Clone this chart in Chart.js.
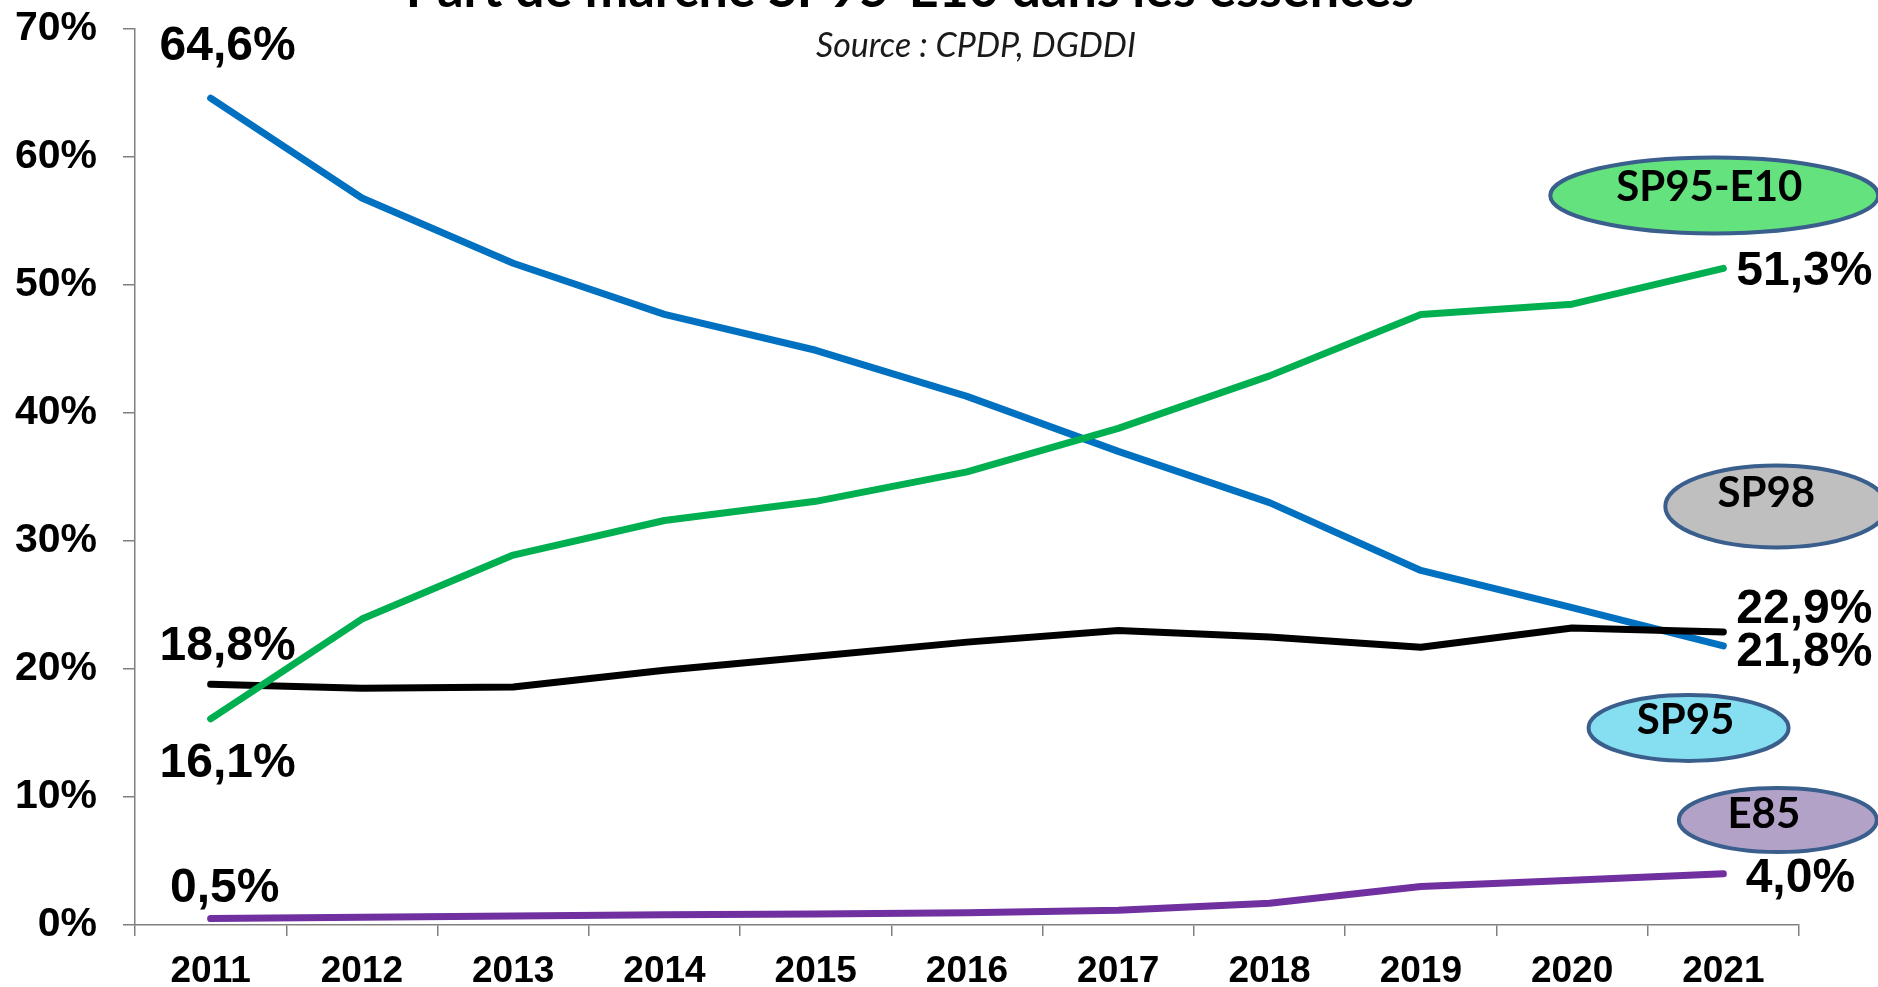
<!DOCTYPE html>
<html>
<head>
<meta charset="utf-8">
<script src="https://cdn.jsdelivr.net/npm/chart.js@4.4.0/dist/chart.umd.min.js"></script>
<style>
  html, body { margin: 0; padding: 0; background: #fff; }
  canvas { display: block; }
</style>
</head>
<body>
<canvas id="share-chart" width="1878" height="987"></canvas>
<script>
const years = ["2011", "2012", "2013", "2014", "2015", "2016", "2017", "2018", "2019", "2020", "2021"];
const sp95E10 = [16.1, 23.9, 28.9, 31.6, 33.1, 35.4, 38.8, 42.9, 47.7, 48.5, 51.3];
const sp98 = [18.8, 18.5, 18.6, 19.9, 21.0, 22.1, 23.0, 22.5, 21.7, 23.2, 22.9];
const sp95 = [64.6, 56.8, 51.7, 47.7, 44.9, 41.3, 37.0, 33.0, 27.7, 24.8, 21.8];
const e85 = [0.5, 0.6, 0.7, 0.8, 0.85, 0.95, 1.15, 1.7, 3.0, 3.5, 4.0];
const yTicks = [0, 10, 20, 30, 40, 50, 60, 70];

const titleText = 'Part de marché SP95-E10 dans les essences';
const sourceText = 'Source : CPDP, DGDDI';

// value labels: first and last point of each line, offsets in px
const labelSpots = [
  { ds: 0, first: [17, 58], last: [81, 17] },
  { ds: 1, first: [17, -24], last: [81, -9] },
  { ds: 2, first: [17, -38], last: [81, 20] },
  { ds: 3, first: [14, -17], last: [77, 18] }
];

// callout ellipses (centre in axis units)
const callouts = [
  { text: 'SP95-E10', x: 9.94, y: 57.0, rx: 164, ry: 38, fill: '#64e27d', tdx: -5, tdy: -8 },
  { text: 'SP98', x: 10.35, y: 32.7, rx: 111, ry: 41, fill: '#bfbfbf', tdx: -10, tdy: -13 },
  { text: 'SP95', x: 9.77, y: 15.4, rx: 100, ry: 33, fill: '#86dff0', tdx: -3, tdy: -7 },
  { text: 'E85', x: 10.36, y: 8.2, rx: 99, ry: 32, fill: '#b3a2c7', tdx: -14, tdy: -6 }
];

function fmt(v) {
  return v.toFixed(1).replace('.', ',') + '%';
}

const decorPlugin = {
  id: 'decor',
  afterDatasetsDraw(chart) {
    const ctx = chart.ctx;
    ctx.save();
    ctx.fillStyle = '#000';
    ctx.font = 'bold 48px "Liberation Sans", Arial, sans-serif';
    ctx.textAlign = 'center';
    ctx.textBaseline = 'alphabetic';
    labelSpots.forEach(s => {
      const pts = chart.getDatasetMeta(s.ds).data;
      const vals = chart.data.datasets[s.ds].data;
      const a = pts[0], b = pts[pts.length - 1];
      ctx.fillText(fmt(vals[0]), a.x + s.first[0], a.y + s.first[1]);
      ctx.fillText(fmt(vals[vals.length - 1]), b.x + s.last[0], b.y + s.last[1]);
    });

    // callouts
    const xs = chart.scales.x, ys = chart.scales.y;
    const step = xs.getPixelForValue(1) - xs.getPixelForValue(0);
    callouts.forEach(c => {
      const cx = xs.getPixelForValue(0) + c.x * step;
      const cy = ys.getPixelForValue(c.y);
      ctx.beginPath();
      ctx.ellipse(cx, cy, c.rx, c.ry, 0, 0, Math.PI * 2);
      ctx.fillStyle = c.fill;
      ctx.fill();
      ctx.lineWidth = 4;
      ctx.strokeStyle = '#3a5f8d';
      ctx.stroke();
      ctx.fillStyle = '#000';
      ctx.font = 'bold 42px Lato, "Open Sans", sans-serif';
      ctx.textBaseline = 'middle';
      ctx.fillText(c.text, cx + c.tdx, cy + c.tdy);
    });

    // title (cut off by the top edge) and source
    ctx.textBaseline = 'alphabetic';
    ctx.font = 'bold 52px Lato, sans-serif';
    ctx.fillText(titleText, 910, 7);
    ctx.font = 'italic 34px Lato, sans-serif';
    ctx.fillStyle = '#1a1a1a';
    ctx.fillText(sourceText, 976, 57);
    ctx.restore();
  }
};

const lineBase = {
  borderWidth: 7,
  pointRadius: 0,
  tension: 0,
  fill: false,
  borderCapStyle: 'round',
  borderJoinStyle: 'round'
};

new Chart(document.getElementById('share-chart'), {
  type: 'line',
  data: {
    labels: years,
    datasets: [
      { ...lineBase, label: 'SP95-E10', data: sp95E10, borderColor: '#00b050' },
      { ...lineBase, label: 'SP98', data: sp98, borderColor: '#000000' },
      { ...lineBase, label: 'SP95', data: sp95, borderColor: '#0070c0' },
      { ...lineBase, label: 'E85', data: e85, borderColor: '#7030a0' }
    ]
  },
  options: {
    responsive: false,
    animation: false,
    layout: { padding: { top: 29, right: 79, left: 0, bottom: 0 } },
    plugins: {
      legend: { display: false },
      tooltip: { enabled: false }
    },
    scales: {
      x: {
        offset: true,
        grid: { offset: true, drawOnChartArea: false, tickLength: 11, color: '#808080', lineWidth: 1.5 },
        border: { color: '#808080', width: 1.5 },
        ticks: {
          color: '#000',
          padding: 14,
          maxRotation: 0,
          font: { family: '"Liberation Sans", Arial, sans-serif', weight: 'bold', size: 37 }
        },
        afterFit(scale) {
          scale.height = 62;
          scale.paddingLeft = 0;
          scale.paddingRight = 0;
        }
      },
      y: {
        min: 0,
        max: 70,
        afterBuildTicks(scale) { scale.ticks = yTicks.map(v => ({ value: v })); },
        grid: { drawOnChartArea: false, tickLength: 12, color: '#808080', lineWidth: 1.5 },
        border: { color: '#808080', width: 1.5 },
        ticks: {
          color: '#000',
          padding: 26,
          callback: v => v + '%',
          font: { family: '"Liberation Sans", Arial, sans-serif', weight: 'bold', size: 41 }
        },
        afterFit(scale) {
          scale.width = 135;
          scale.paddingTop = 0;
          scale.paddingBottom = 0;
        }
      }
    }
  },
  plugins: [decorPlugin]
});
</script>
</body>
</html>
